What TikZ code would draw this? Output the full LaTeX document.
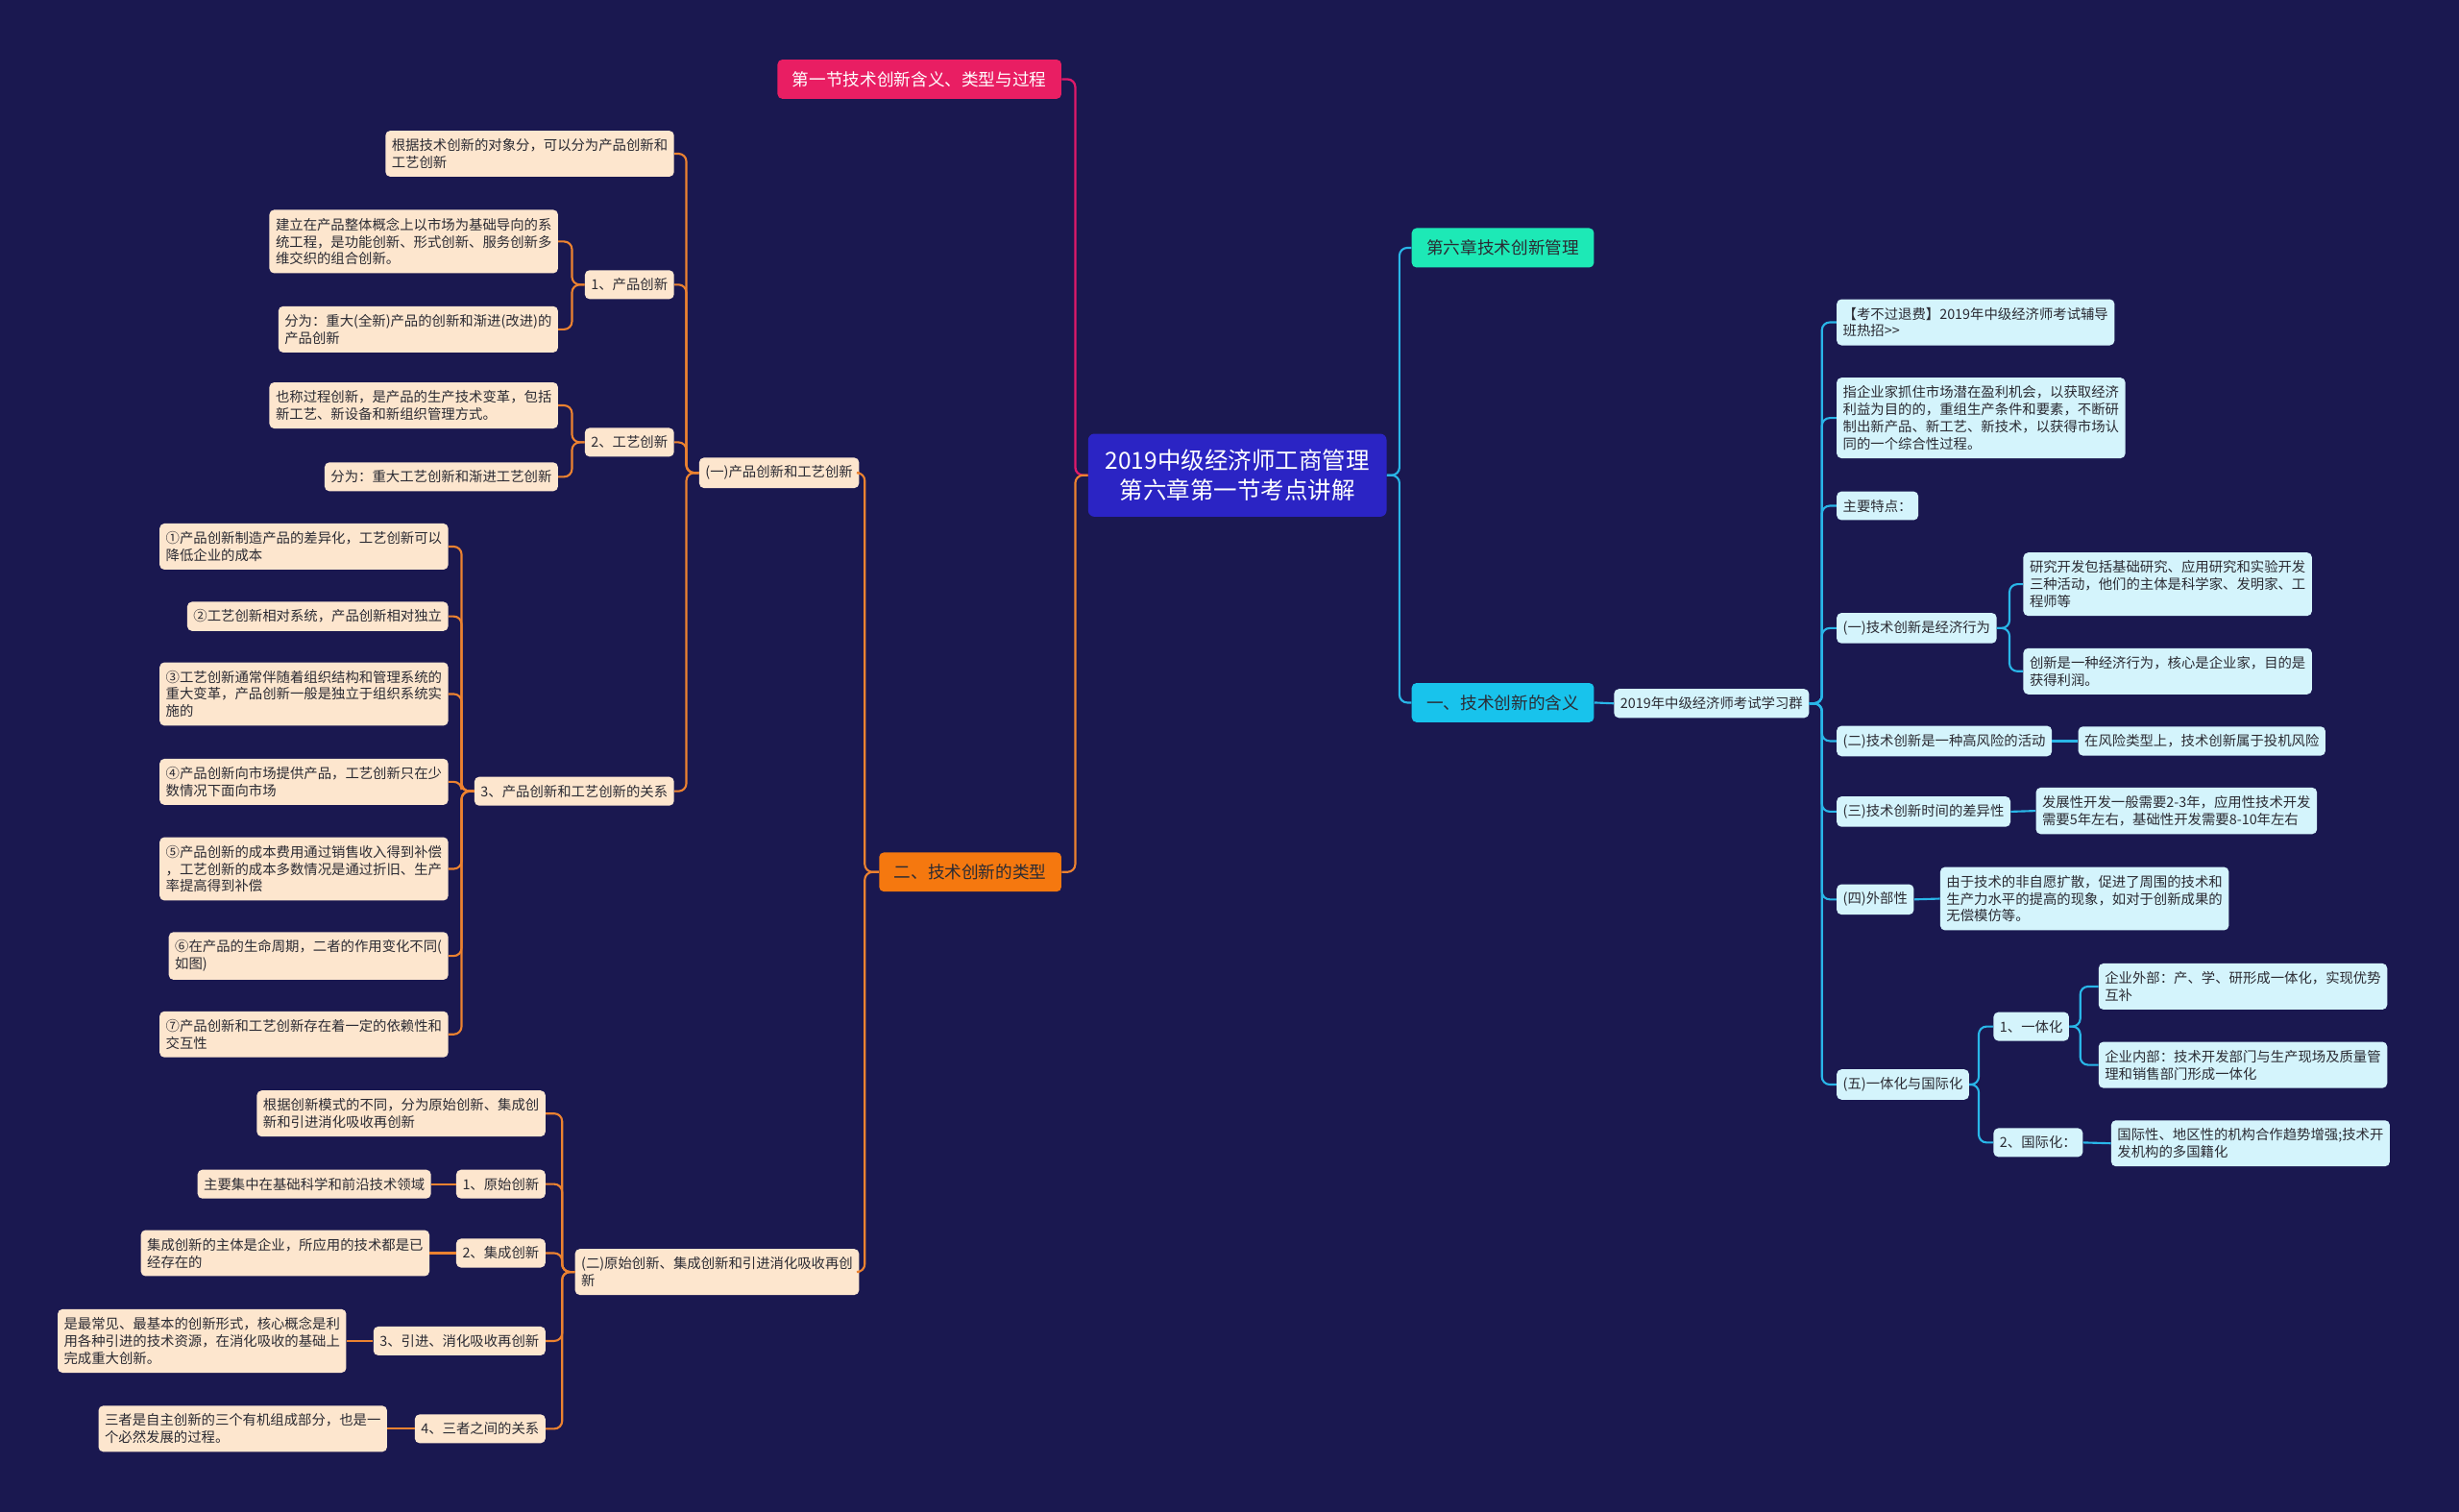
\documentclass[tikz,border=0pt]{standalone}
\usepackage{fontspec}
\setmainfont{Noto Sans CJK SC}
\usepackage{xcolor}
\usepackage{tikz}
\usetikzlibrary{positioning}
\definecolor{mmBg}{HTML}{1A1850}
\definecolor{mmRoot}{HTML}{2B24C4}
\definecolor{mmPink}{HTML}{E91E63}
\definecolor{mmOrange}{HTML}{F5780F}
\definecolor{mmGreen}{HTML}{1DE9B6}
\definecolor{mmCyan}{HTML}{18C3EC}
\definecolor{mmPeach}{HTML}{FDE6CE}
\definecolor{mmIce}{HTML}{D4F4FC}
\definecolor{mmInk}{HTML}{2B2B33}
\definecolor{mmOrangeLine}{HTML}{EC8230}
\definecolor{mmCyanLine}{HTML}{29B6E8}
\definecolor{mmPinkLine}{HTML}{E0196A}

\begin{document}
\begin{tikzpicture}[x=1pt, y=-1pt,
  %% --- Node styles ---
  rootbox/.style={
    rectangle, rounded corners=4pt,
    font=\fontsize{15}{19}\selectfont, align=center,
    inner xsep=11pt, inner ysep=10pt,
    fill=mmRoot, text=white
  },
  topic/.style={
    rectangle, rounded corners=3pt,
    font=\fontsize{10.8}{13}\selectfont,
    inner xsep=9.5pt, inner ysep=7.5pt
  },
  topicPink/.style={topic, fill=mmPink, text=white},
  topicOrange/.style={topic, fill=mmOrange, text=mmInk},
  topicGreen/.style={topic, fill=mmGreen, text=mmInk},
  topicCyan/.style={topic, fill=mmCyan, text=mmInk},
  leaf/.style={
    rectangle, rounded corners=3pt,
    font=\fontsize{8.8}{11}\selectfont, align=left,
    inner xsep=4pt, inner ysep=5.1pt
  },
  leafOrange/.style={leaf, fill=mmPeach, text=mmInk},
  leafCyan/.style={leaf, fill=mmIce, text=mmInk},
  %% --- Connector styles ---
  linkPink/.style={draw=mmPinkLine, line width=1.4pt, rounded corners=5pt},
  linkOrange/.style={draw=mmOrangeLine, line width=1.3pt, rounded corners=5pt},
  linkCyan/.style={draw=mmCyanLine, line width=1.3pt, rounded corners=5pt}
]

\fill[mmBg] (0,0) rectangle (1568,964);
\useasboundingbox (0,0) rectangle (1568,964);

%% =========================================================
%% ROOT
%% =========================================================
\node (root) [rootbox] at (789,303) {2019中级经济师工商管理\\第六章第一节考点讲解};

%% =========================================================
%% LEFT SIDE
%% =========================================================
\node (sec1) [topicPink, anchor=east]   at (677,50.5) {第一节技术创新含义、类型与过程};
\node (sec2) [topicOrange, anchor=east] at (677,556)  {二、技术创新的类型};

\node (pc) [leafOrange, anchor=east] at (548,301.5) {(一)产品创新和工艺创新};
\node (oc) [leafOrange, anchor=east] at (548,811)
      {(二)原始创新、集成创新和引进消化吸收再创\\新};

%% (一) product / process innovation
\node (pcIntro) [leafOrange, anchor=east] at (430,98)
      {根据技术创新的对象分，可以分为产品创新和\\工艺创新};
\node (pcProd)  [leafOrange, anchor=east] at (430,181.5) {1、产品创新};
\node (pcProc)  [leafOrange, anchor=east] at (430,282)   {2、工艺创新};
\node (pcRel)   [leafOrange, anchor=east] at (430,504.5) {3、产品创新和工艺创新的关系};

\node (prodA) [leafOrange, anchor=east] at (356,154)
      {建立在产品整体概念上以市场为基础导向的系\\统工程，是功能创新、形式创新、服务创新多\\维交织的组合创新。};
\node (prodB) [leafOrange, anchor=east] at (356,210)
      {分为：重大(全新)产品的创新和渐进(改进)的\\产品创新};
\node (procA) [leafOrange, anchor=east] at (356,258.5)
      {也称过程创新，是产品的生产技术变革，包括\\新工艺、新设备和新组织管理方式。};
\node (procB) [leafOrange, anchor=east] at (356,304)
      {分为：重大工艺创新和渐进工艺创新};

\node (rel1) [leafOrange, anchor=east] at (286,348.5)
      {①产品创新制造产品的差异化，工艺创新可以\\降低企业的成本};
\node (rel2) [leafOrange, anchor=east] at (286,393)
      {②工艺创新相对系统，产品创新相对独立};
\node (rel3) [leafOrange, anchor=east] at (286,442.5)
      {③工艺创新通常伴随着组织结构和管理系统的\\重大变革，产品创新一般是独立于组织系统实\\施的};
\node (rel4) [leafOrange, anchor=east] at (286,498.5)
      {④产品创新向市场提供产品，工艺创新只在少\\数情况下面向市场};
\node (rel5) [leafOrange, anchor=east] at (286,554)
      {⑤产品创新的成本费用通过销售收入得到补偿\\，工艺创新的成本多数情况是通过折旧、生产\\率提高得到补偿};
\node (rel6) [leafOrange, anchor=east] at (286,609.5)
      {⑥在产品的生命周期，二者的作用变化不同(\\如图)};
\node (rel7) [leafOrange, anchor=east] at (286,659.5)
      {⑦产品创新和工艺创新存在着一定的依赖性和\\交互性};

%% (二) original / integrated / imported innovation
\node (ocIntro) [leafOrange, anchor=east] at (348,710)
      {根据创新模式的不同，分为原始创新、集成创\\新和引进消化吸收再创新};
\node (oc1) [leafOrange, anchor=east] at (348,755) {1、原始创新};
\node (oc2) [leafOrange, anchor=east] at (348,799) {2、集成创新};
\node (oc3) [leafOrange, anchor=east] at (348,855) {3、引进、消化吸收再创新};
\node (oc4) [leafOrange, anchor=east] at (348,911) {4、三者之间的关系};

\node (oc1a) [leafOrange, anchor=east] at (275,755) {主要集中在基础科学和前沿技术领域};
\node (oc2a) [leafOrange, anchor=east] at (274,799)
      {集成创新的主体是企业，所应用的技术都是已\\经存在的};
\node (oc3a) [leafOrange, anchor=east] at (221,855)
      {是最常见、最基本的创新形式，核心概念是利\\用各种引进的技术资源，在消化吸收的基础上\\完成重大创新。};
\node (oc4a) [leafOrange, anchor=east] at (247,911)
      {三者是自主创新的三个有机组成部分，也是一\\个必然发展的过程。};

%% =========================================================
%% RIGHT SIDE
%% =========================================================
\node (ch6) [topicGreen, anchor=west] at (900,158) {第六章技术创新管理};
\node (def) [topicCyan, anchor=west]  at (900,448) {一、技术创新的含义};
\node (grp) [leafCyan, anchor=west]   at (1029,448.5) {2019年中级经济师考试学习群};

\node (ad)      [leafCyan, anchor=west] at (1171,205.5)
      {【考不过退费】2019年中级经济师考试辅导\\班热招>{}>};
\node (meaning) [leafCyan, anchor=west] at (1171,266.5)
      {指企业家抓住市场潜在盈利机会，以获取经济\\利益为目的的，重组生产条件和要素，不断研\\制出新产品、新工艺、新技术，以获得市场认\\同的一个综合性过程。};
\node (feat)    [leafCyan, anchor=west] at (1171,322.5) {主要特点：};

\node (f1) [leafCyan, anchor=west] at (1171,400.5) {(一)技术创新是经济行为};
\node (f2) [leafCyan, anchor=west] at (1171,472.5) {(二)技术创新是一种高风险的活动};
\node (f3) [leafCyan, anchor=west] at (1171,517.5) {(三)技术创新时间的差异性};
\node (f4) [leafCyan, anchor=west] at (1171,573.5) {(四)外部性};
\node (f5) [leafCyan, anchor=west] at (1171,691.5) {(五)一体化与国际化};

\node (f1a) [leafCyan, anchor=west] at (1290,372.5)
      {研究开发包括基础研究、应用研究和实验开发\\三种活动，他们的主体是科学家、发明家、工\\程师等};
\node (f1b) [leafCyan, anchor=west] at (1290,428)
      {创新是一种经济行为，核心是企业家，目的是\\获得利润。};
\node (f2a) [leafCyan, anchor=west] at (1325,472.5) {在风险类型上，技术创新属于投机风险};
\node (f3a) [leafCyan, anchor=west] at (1298,517)
      {发展性开发一般需要2-3年，应用性技术开发\\需要5年左右，基础性开发需要8-10年左右};
\node (f4a) [leafCyan, anchor=west] at (1237,573)
      {由于技术的非自愿扩散，促进了周围的技术和\\生产力水平的提高的现象，如对于创新成果的\\无偿模仿等。};

\node (f5a)  [leafCyan, anchor=west] at (1271,654.5) {1、一体化};
\node (f5b)  [leafCyan, anchor=west] at (1271,728.5) {2、国际化：};
\node (f5a1) [leafCyan, anchor=west] at (1338,629)
      {企业外部：产、学、研形成一体化，实现优势\\互补};
\node (f5a2) [leafCyan, anchor=west] at (1338,679)
      {企业内部：技术开发部门与生产现场及质量管\\理和销售部门形成一体化};
\node (f5b1) [leafCyan, anchor=west] at (1346,729)
      {国际性、地区性的机构合作趋势增强;技术开\\发机构的多国籍化};

%% =========================================================
%% CONNECTORS — left
%% =========================================================
\draw[linkPink]   (root.west) -- ++(-8,0) |- (sec1.east);
\draw[linkOrange] (root.west) -- ++(-8,0) |- (sec2.east);

\draw[linkOrange] (sec2.west) -- ++(-9,0) |- (pc.east);
\draw[linkOrange] (sec2.west) -- ++(-9,0) |- (oc.east);

\draw[linkOrange] (pc.west) -- ++(-8,0) |- (pcIntro.east);
\draw[linkOrange] (pc.west) -- ++(-8,0) |- (pcProd.east);
\draw[linkOrange] (pc.west) -- ++(-8,0) |- (pcProc.east);
\draw[linkOrange] (pc.west) -- ++(-8,0) |- (pcRel.east);

\draw[linkOrange] (pcProd.west) -- ++(-8,0) |- (prodA.east);
\draw[linkOrange] (pcProd.west) -- ++(-8,0) |- (prodB.east);
\draw[linkOrange] (pcProc.west) -- ++(-8,0) |- (procA.east);
\draw[linkOrange] (pcProc.west) -- ++(-8,0) |- (procB.east);

\draw[linkOrange] (pcRel.west) -- ++(-8,0) |- (rel1.east);
\draw[linkOrange] (pcRel.west) -- ++(-8,0) |- (rel2.east);
\draw[linkOrange] (pcRel.west) -- ++(-8,0) |- (rel3.east);
\draw[linkOrange] (pcRel.west) -- ++(-8,0) |- (rel4.east);
\draw[linkOrange] (pcRel.west) -- ++(-8,0) |- (rel5.east);
\draw[linkOrange] (pcRel.west) -- ++(-8,0) |- (rel6.east);
\draw[linkOrange] (pcRel.west) -- ++(-8,0) |- (rel7.east);

\draw[linkOrange] (oc.west) -- ++(-8,0) |- (ocIntro.east);
\draw[linkOrange] (oc.west) -- ++(-8,0) |- (oc1.east);
\draw[linkOrange] (oc.west) -- ++(-8,0) |- (oc2.east);
\draw[linkOrange] (oc.west) -- ++(-8,0) |- (oc3.east);
\draw[linkOrange] (oc.west) -- ++(-8,0) |- (oc4.east);

\draw[linkOrange] (oc1.west) -- (oc1a.east);
\draw[linkOrange] (oc2.west) -- (oc2a.east);
\draw[linkOrange] (oc3.west) -- (oc3a.east);
\draw[linkOrange] (oc4.west) -- (oc4a.east);

%% =========================================================
%% CONNECTORS — right
%% =========================================================
\draw[linkCyan] (root.east) -- ++(8,0) |- (ch6.west);
\draw[linkCyan] (root.east) -- ++(8,0) |- (def.west);
\draw[linkCyan] (def.east) -- (grp.west);

\draw[linkCyan] (grp.east) -- ++(8,0) |- (ad.west);
\draw[linkCyan] (grp.east) -- ++(8,0) |- (meaning.west);
\draw[linkCyan] (grp.east) -- ++(8,0) |- (feat.west);
\draw[linkCyan] (grp.east) -- ++(8,0) |- (f1.west);
\draw[linkCyan] (grp.east) -- ++(8,0) |- (f2.west);
\draw[linkCyan] (grp.east) -- ++(8,0) |- (f3.west);
\draw[linkCyan] (grp.east) -- ++(8,0) |- (f4.west);
\draw[linkCyan] (grp.east) -- ++(8,0) |- (f5.west);

\draw[linkCyan] (f1.east) -- ++(8,0) |- (f1a.west);
\draw[linkCyan] (f1.east) -- ++(8,0) |- (f1b.west);
\draw[linkCyan] (f2.east) -- (f2a.west);
\draw[linkCyan] (f3.east) -- (f3a.west);
\draw[linkCyan] (f4.east) -- (f4a.west);

\draw[linkCyan] (f5.east) -- ++(6,0) |- (f5a.west);
\draw[linkCyan] (f5.east) -- ++(6,0) |- (f5b.west);
\draw[linkCyan] (f5a.east) -- ++(7,0) |- (f5a1.west);
\draw[linkCyan] (f5a.east) -- ++(7,0) |- (f5a2.west);
\draw[linkCyan] (f5b.east) -- (f5b1.west);

\end{tikzpicture}
\end{document}
